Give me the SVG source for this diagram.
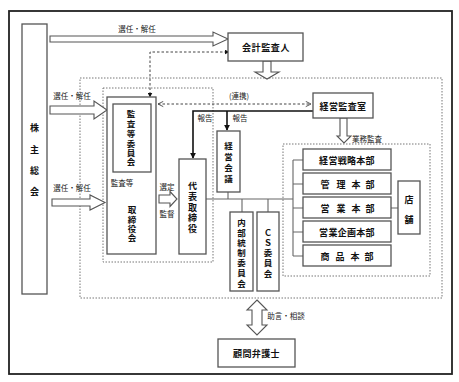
<svg xmlns="http://www.w3.org/2000/svg" width="459" height="382" viewBox="0 0 459 382">
<style>
.bx{fill:#fff;stroke:#555;stroke-width:1.3}
.dot{fill:none;stroke:#777;stroke-width:1;stroke-dasharray:1.5,1.5}
.ha{fill:#fff;stroke:#555;stroke-width:1.1}
.ln{fill:none;stroke:#666;stroke-width:1.1}
.rp{fill:none;stroke:#111;stroke-width:1.6}
.dl{fill:none;stroke:#444;stroke-width:1;stroke-dasharray:2.5,2}
.t{font-family:"Noto Sans CJK JP","Noto Sans",sans-serif;font-size:9px;font-weight:bold;fill:#111;text-anchor:middle;dominant-baseline:central}
.v{font-size:8.5px}
.l{font-family:"Noto Sans CJK JP","Noto Sans",sans-serif;font-size:7.5px;fill:#222;text-anchor:middle;dominant-baseline:central}
</style>
<defs>
<marker id="fa" viewBox="0 0 8 8" refX="7" refY="4" markerWidth="6" markerHeight="6" orient="auto" markerUnits="userSpaceOnUse"><path d="M0,0 L8,4 L0,8 z" fill="#111"/></marker>
<marker id="fs" viewBox="0 0 8 8" refX="4" refY="4" markerWidth="5" markerHeight="5" orient="auto-start-reverse" markerUnits="userSpaceOnUse"><path d="M0,0 L8,4 L0,8 z" fill="#111"/></marker>
<marker id="ch" viewBox="0 0 8 8" refX="7" refY="4" markerWidth="7" markerHeight="7" orient="auto-start-reverse" markerUnits="userSpaceOnUse"><path d="M1,1 L7,4 L1,7" fill="none" stroke="#444" stroke-width="1"/></marker>
</defs>
<rect x="0" y="0" width="459" height="382" fill="#fff"/>
<rect x="9" y="11" width="443" height="363" fill="none" stroke="#222" stroke-width="1.8"/>
<rect class="dot" x="80" y="78" width="362" height="220"/>
<rect class="dot" x="103" y="88" width="110" height="174"/>
<rect class="dot" x="283" y="144" width="147" height="132"/>

<g id="connectors">
<polygon class="ha" points="50,36 213,36 213,32 228,39 213,46 213,42 50,42"/>
<polygon class="ha" points="50,106 94,106 94,101 107,110 94,119 94,114 50,114"/>
<polygon class="ha" points="52,199 90,199 90,195 105,202.5 90,210 90,206 52,206"/>
<polygon class="ha" points="137,172 143,172 143,188 147,188 140,198 133,188 137,188"/>
<polygon class="ha" points="159,195 170,195 170,191.5 177,199 170,206.5 170,203 159,203"/>
<polygon class="ha" points="263,61 271,61 271,72 279,72 267,79 255,72 263,72"/>
<polygon class="ha" points="340,118 347,118 347,136 351,136 344,143 337,136 340,136"/>
<polygon class="ha" points="257,300 267,310 262,310 262,325 267,325 257,335 247,325 252,325 252,310 247,310"/>
<path class="dl" d="M227,52 H150 V95" marker-start="url(#fs)" marker-end="url(#fs)"/>
<path class="dl" d="M158,104 H311" marker-start="url(#ch)" marker-end="url(#ch)"/>
<path class="rp" d="M313,111 H193 V158" marker-end="url(#fa)"/>
<path class="rp" d="M227,111 V130" marker-end="url(#fa)"/>
<path class="ln" d="M206,199 H293 M228,192 V199 M242,199 V212 M268,199 V212 M293,160 V256 M293,160 H303 M293,184 H303 M293,208 H303 M293,232 H303 M293,256 H303 M391,208 H398"/>
</g>

<g id="kabunushi"><rect class="bx" x="22" y="24" width="25" height="270"/><text class="t" x="34.5 34.5 34.5 34.5" y="127 149 170 191">株主総会</text></g>
<g id="kaikei"><rect class="bx" x="228" y="33" width="75" height="28"/><text class="t" x="266" y="47" letter-spacing="0.6">会計監査人</text></g>
<g id="torishimariyakukai"><rect class="bx" x="107" y="97" width="49" height="157"/><text class="t v" x="132 132 132 132" y="209 219 228 237">取締役会</text></g>
<g id="kansatou"><rect class="bx" x="113" y="104" width="38" height="68"/><text class="t v" x="131 131 131 131 131 131" y="113 123 133 143 152 161">監査等委員会</text></g>
<g id="daihyou"><rect class="bx" x="179" y="159" width="27" height="95"/><text class="t" x="192.5 192.5 192.5 192.5 192.5" y="185 196 207 217 228">代表取締役</text></g>
<g id="keieikaigi"><rect class="bx" x="217" y="131" width="23" height="61"/><text class="t v" x="228.5 228.5 228.5 228.5" y="145 156 167 178">経営会議</text></g>
<g id="naibu"><rect class="bx" x="230" y="212" width="23" height="79"/><text class="t v" x="241.5 241.5 241.5 241.5 241.5 241.5 241.5" y="222 232 242 252 262 272 283">内部統制委員会</text></g>
<g id="cs"><rect class="bx" x="257" y="212" width="22" height="79"/><text class="t v" x="268 268 268 268 268" y="232 242 252 262 273">ＣＳ委員会</text></g>
<g id="keieikansa"><rect class="bx" x="313" y="93" width="60" height="25"/><text class="t" x="343" y="106" letter-spacing="0.4">経営監査室</text></g>
<g id="senryaku"><rect class="bx" x="303" y="149" width="88" height="21"/><text class="t" x="347" y="160" letter-spacing="0.3">経営戦略本部</text></g>
<g id="kanri"><rect class="bx" x="303" y="173" width="88" height="21"/><text class="t" x="325 341 356 370" y="184">管理本部</text></g>
<g id="eigyou"><rect class="bx" x="303" y="197" width="88" height="21"/><text class="t" x="325 341 356 370" y="208">営業本部</text></g>
<g id="kikaku"><rect class="bx" x="303" y="221" width="88" height="21"/><text class="t" x="347" y="232" letter-spacing="0.3">営業企画本部</text></g>
<g id="shouhin"><rect class="bx" x="303" y="245" width="88" height="21"/><text class="t" x="325 340 355 369" y="256">商品本部</text></g>
<g id="tenpo"><rect class="bx" x="398" y="181" width="22" height="53"/><text class="t" x="409 409" y="199 219">店舗</text></g>
<g id="komon"><rect class="bx" x="218" y="339" width="77" height="28"/><text class="t" x="256.5" y="353" letter-spacing="0.4">顧問弁護士</text></g>

<g id="labels">
<text class="l" x="137" y="28">選任・解任</text>
<text class="l" x="72" y="95">選任・解任</text>
<text class="l" x="72" y="187">選任・解任</text>
<text class="l" x="122" y="182">監査等</text>
<text class="l" x="167" y="186">選定</text>
<text class="l" x="167" y="213">監督</text>
<text class="l" x="239" y="95">(連携)</text>
<text class="l" x="205" y="117">報告</text>
<text class="l" x="240" y="117">報告</text>
<text class="l" x="367" y="138">業務監査</text>
<text class="l" x="286" y="315">助言・相談</text>
</g>
</svg>
